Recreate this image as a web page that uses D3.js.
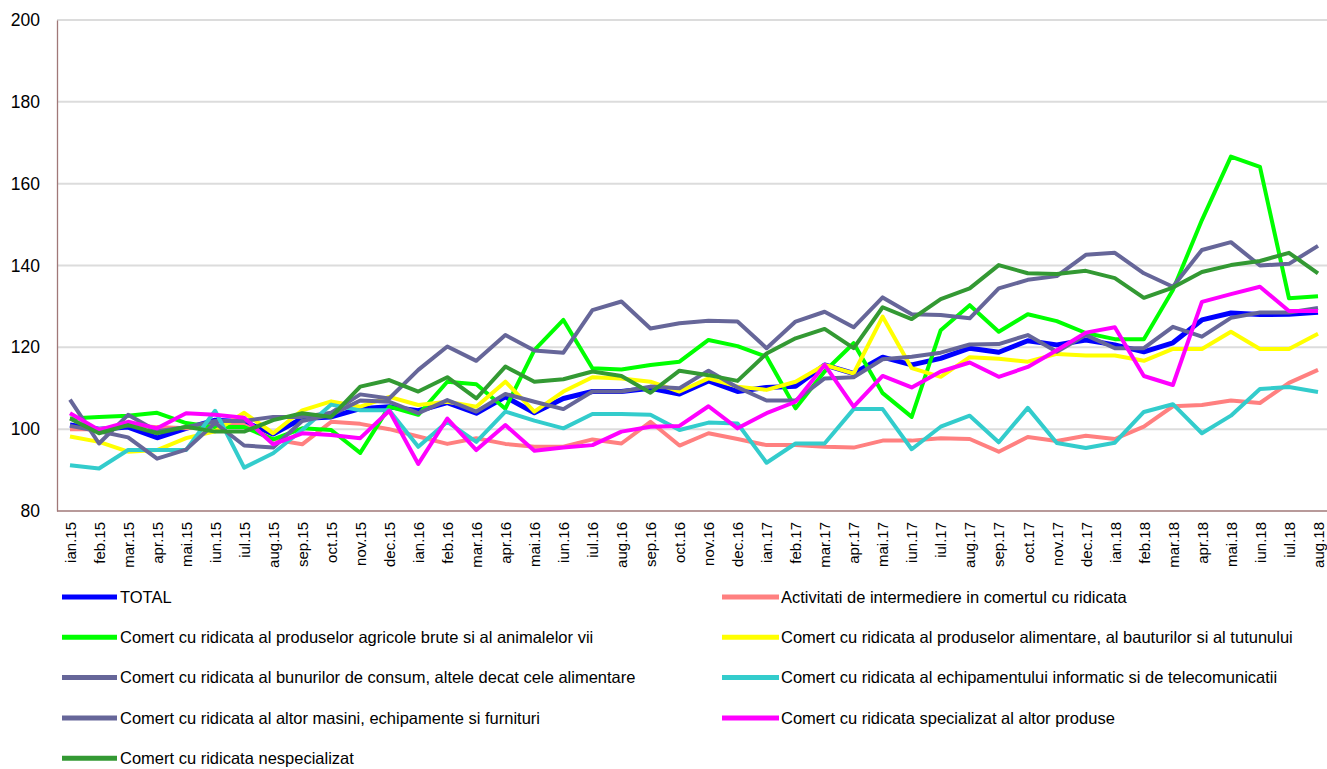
<!DOCTYPE html>
<html>
<head>
<meta charset="utf-8">
<script src="https://cdn.jsdelivr.net/npm/d3@7"></script>
<style>
    body { margin: 0; background: #fff; }
    svg { display: block; font-family: 'Liberation Sans', Arial, sans-serif; }
</style>
</head>
<body>
<svg id="chart" width="1327" height="769"></svg>
<script>
const months = ['ian.15', 'feb.15', 'mar.15', 'apr.15', 'mai.15', 'iun.15', 'iul.15', 'aug.15', 'sep.15', 'oct.15', 'nov.15', 'dec.15',
    'ian.16', 'feb.16', 'mar.16', 'apr.16', 'mai.16', 'iun.16', 'iul.16', 'aug.16', 'sep.16', 'oct.16', 'nov.16', 'dec.16',
    'ian.17', 'feb.17', 'mar.17', 'apr.17', 'mai.17', 'iun.17', 'iul.17', 'aug.17', 'sep.17', 'oct.17', 'nov.17', 'dec.17',
    'ian.18', 'feb.18', 'mar.18', 'apr.18', 'mai.18', 'iun.18', 'iul.18', 'aug.18'];

const yTicks = [80, 100, 120, 140, 160, 180, 200];

const total = [101, 100, 100.5, 97.9, 100.2, 102.2, 101.8, 98.8, 102.6, 103, 105, 105.5, 104.5, 106.5, 103.9, 107.9, 104, 107.5, 109.2, 109.2, 110, 108.6,
    111.8, 109.2, 110.2, 110.5, 115.7, 113.6, 117.6, 115.7, 117.3, 119.8, 118.8, 121.6, 120.6, 121.8, 120.6, 118.9, 121.1, 126.7, 128.4, 128, 128.1, 128.6];
const intermediere = [100, 100, 101, 100.5, 100.2, 101, 101, 97.5, 96.3, 101.8, 101.3, 100, 98.2, 96.4, 97.8, 96.4, 95.7, 95.7, 97.5, 96.5, 101.8, 96,
    99, 97.6, 96.1, 96.1, 95.7, 95.5, 97.2, 97.2, 97.8, 97.6, 94.5, 98.1, 97.1, 98.4, 97.6, 100.6, 105.6, 105.9, 107, 106.4, 111.3, 114.5];
const agricole = [102.6, 103, 103.3, 104, 101.5, 100.5, 100.5, 97.5, 100.2, 99.8, 94.2, 105.5, 103.5, 111.6, 111, 105, 119.3, 126.7, 114.9, 114.6, 115.7, 116.5,
    121.8, 120.3, 117.7, 105.1, 114.1, 121, 108.8, 103, 124.2, 130.3, 123.8, 128.1, 126.4, 123.5, 122, 122, 134, 151.1, 166.6, 164.1, 132, 132.5];
const alimentare = [98.2, 96.9, 94.5, 94.9, 97.8, 99.5, 104, 99, 104.6, 106.8, 105.5, 107.9, 105.9, 106.7, 105.5, 111.6, 104.3, 109.2, 112.7, 112.4, 111.6, 109.2,
    112.4, 110.4, 109.6, 111.6, 115.7, 113.6, 127.5, 114.9, 112.8, 117.6, 117.2, 116.5, 118.4, 118, 118, 116.7, 119.6, 119.6, 123.8, 119.6, 119.6, 123.3];
const bunuriConsum = [107.2, 96.5, 103.5, 99.5, 100.5, 102, 102, 103, 103, 104, 108.5, 107.5, 114.5, 120.2, 116.7, 123, 119.2, 118.7, 129.1, 131.2, 124.6, 125.9,
    126.5, 126.3, 119.8, 126.3, 128.7, 124.9, 132.2, 128.1, 127.9, 127.1, 134.4, 136.5, 137.4, 142.6, 143.1, 138.1, 134.8, 143.8, 145.7, 140, 140.4, 144.8];
const informatic = [91.2, 90.4, 94.9, 94.9, 94.9, 104.5, 90.6, 94.1, 99.8, 106, 104.6, 104.6, 95.7, 101.8, 96.9, 104.3, 102.1, 100.2, 103.7, 103.7, 103.5, 99.8,
    101.6, 101.4, 91.8, 96.5, 96.5, 104.9, 104.9, 95.1, 100.6, 103.3, 96.8, 105.2, 96.6, 95.4, 96.7, 104.2, 106.1, 99, 103.3, 109.8, 110.3, 109.1];
const altorMasini = [100.8, 99.5, 98, 92.8, 95, 101.5, 96, 95.5, 102, 103.5, 107, 106.7, 103.9, 107.1, 104.3, 108.6, 106.7, 104.9, 109.2, 109.2, 110.4, 110,
    114.3, 110.2, 107, 107, 112.4, 112.7, 117.1, 117.7, 118.7, 120.7, 120.8, 123, 118.9, 123, 119.8, 119.8, 125, 122.6, 127.2, 128.5, 128.5, 129.6];
const specializat = [103.9, 99.8, 101.8, 100.2, 103.9, 103.5, 102.8, 96.3, 99, 98.6, 97.8, 104.5, 91.5, 102.6, 94.9, 101, 94.7, 95.5, 96.1, 99.4, 100.6, 100.8,
    105.6, 100.2, 103.9, 106.7, 115.7, 105.5, 113, 110.2, 114.1, 116.3, 112.8, 115.2, 119.3, 123.6, 124.9, 113, 110.8, 131.1, 133, 134.8, 128.9, 128.9];
const nespecializat = [102.6, 99, 101, 99, 100.6, 99.4, 99.4, 102.2, 103.9, 103, 110.4, 112, 109.2, 112.7, 107.5, 115.3, 111.6, 112.2, 114.1, 113, 108.9, 114.3,
    113.2, 111.8, 118.5, 122.2, 124.5, 119.8, 129.8, 126.9, 131.8, 134.4, 140.1, 138.1, 137.9, 138.7, 136.9, 132.1, 134.6, 138.4, 140.1, 141.1, 143.1, 138.1];

const seriesNames = [
    'TOTAL',
    'Activitati de intermediere in comertul cu ridicata',
    'Comert cu ridicata al produselor agricole brute si al animalelor vii',
    'Comert cu ridicata al produselor alimentare, al bauturilor si al tutunului',
    'Comert cu ridicata al bunurilor de consum, altele decat cele alimentare',
    'Comert cu ridicata al echipamentului informatic si de telecomunicatii',
    'Comert cu ridicata al altor masini, echipamente si furnituri',
    'Comert cu ridicata specializat al altor produse',
    'Comert cu ridicata nespecializat'
];
const seriesValues = [total, intermediere, agricole, alimentare, bunuriConsum, informatic, altorMasini, specializat, nespecializat];
const seriesColors = ['#0000FF', '#FF8080', '#00FF00', '#FFFF00', '#666699', '#33CCCC', '#666699', '#FF00FF', '#339933'];

const svg = d3.select('#chart');
const plot = { left: 57, right: 1327, top: 20, bottom: 511 };

const x = d3.scalePoint()
    .domain(months)
    .range([70, 1318]);

const y = d3.scaleLinear()
    .domain([80, 200])
    .range([plot.bottom, plot.top]);

// grid lines
svg.append('g')
    .selectAll('line')
    .data(yTicks.filter(t => t > 80))
    .join('line')
    .attr('x1', plot.left)
    .attr('x2', plot.right)
    .attr('y1', d => y(d))
    .attr('y2', d => y(d))
    .attr('stroke', '#dcdcdc')
    .attr('stroke-width', 2);

// y axis
const yAxis = svg.append('g')
    .attr('transform', `translate(${plot.left},0)`)
    .call(d3.axisLeft(y).tickValues(yTicks).tickSize(0).tickPadding(17));
yAxis.select('.domain').attr('stroke', '#a07878').attr('stroke-width', 1.3);
yAxis.selectAll('text')
    .style('font-size', '17.5px')
    .attr('fill', '#000');

// x axis
const xAxis = svg.append('g')
    .attr('transform', `translate(0,${plot.bottom})`)
    .call(d3.axisBottom(x).tickSize(0));
xAxis.select('.domain')
    .attr('d', `M${plot.left},0H${plot.right}`)
    .attr('stroke', '#a07878')
    .attr('stroke-width', 1.3);
xAxis.selectAll('text')
    .style('font-size', '15px')
    .attr('fill', '#000')
    .attr('text-anchor', 'end')
    .attr('transform', 'rotate(-90)')
    .attr('x', -11)
    .attr('y', 0)
    .attr('dy', '0.35em');

// lines
const line = d3.line()
    .x((d, i) => x(months[i]))
    .y(d => y(d));

svg.append('g')
    .selectAll('path')
    .data(seriesValues)
    .join('path')
    .attr('fill', 'none')
    .attr('stroke', (d, i) => seriesColors[i])
    .attr('stroke-width', (d, i) => i === 0 ? 5 : 4)
    .attr('stroke-linejoin', 'round')
    .attr('d', line);

// legend
const legend = svg.append('g')
    .selectAll('g')
    .data(seriesNames)
    .join('g')
    .attr('transform', (d, i) => `translate(${i % 2 === 0 ? 62 : 722},${597 + Math.floor(i / 2) * 40.3})`);

legend.append('line')
    .attr('x1', 0)
    .attr('x2', (d, i) => i % 2 === 0 ? 55 : 57)
    .attr('stroke', (d, i) => seriesColors[i])
    .attr('stroke-width', 5);

legend.append('text')
    .attr('x', (d, i) => i % 2 === 0 ? 58 : 59)
    .attr('dy', '0.35em')
    .style('font-size', '16.5px')
    .text(d => d);
</script>
</body>
</html>
